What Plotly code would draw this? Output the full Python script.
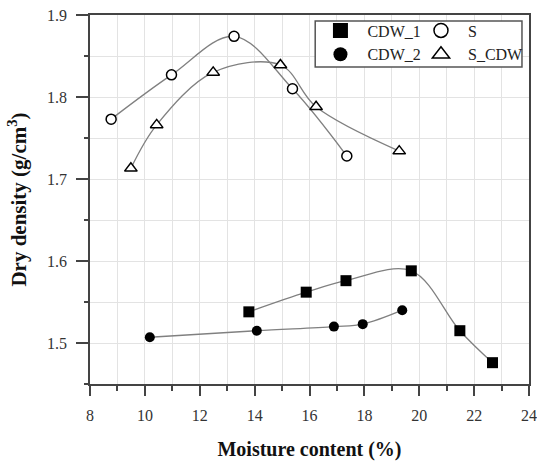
import plotly.graph_objects as go

# Compaction test results: moisture content (%) vs dry density (g/cm3)
cdw1_x = [13.79, 15.88, 17.33, 19.71, 21.48, 22.67]
cdw1_y = [1.538, 1.562, 1.576, 1.588, 1.515, 1.476]

cdw2_x = [10.18, 14.08, 16.89, 17.94, 19.38]
cdw2_y = [1.507, 1.515, 1.520, 1.523, 1.540]

s_x = [8.77, 10.97, 13.25, 15.38, 17.36]
s_y = [1.773, 1.827, 1.874, 1.810, 1.728]

scdw_x = [9.49, 10.43, 12.49, 14.94, 16.24, 19.27]
scdw_y = [1.713, 1.766, 1.830, 1.839, 1.788, 1.734]

x_ticks = [8, 10, 12, 14, 16, 18, 20, 22, 24]
y_ticks = [1.5, 1.6, 1.7, 1.8, 1.9]

SERIF = "Liberation Serif"
CURVE = dict(color="#808080", width=1.3, shape="spline", smoothing=1.0)

series = [
    ("CDW_1", cdw1_x, cdw1_y, dict(symbol="square", size=11, color="black"), "legend"),
    ("CDW_2", cdw2_x, cdw2_y, dict(symbol="circle", size=10, color="black"), "legend"),
    ("S", s_x, s_y, dict(symbol="circle", size=10, color="white",
                         line=dict(color="black", width=1.5)), "legend2"),
    ("S_CDW", scdw_x, scdw_y, dict(symbol="triangle-up", size=11, color="white",
                                   line=dict(color="black", width=1.5)), "legend2"),
]

fig = go.Figure()

for name, xs, ys, mk, _ in series:
    fig.add_trace(go.Scatter(x=xs, y=ys, mode="lines+markers", name=name,
                             line=CURVE, marker=mk, showlegend=False))

# legend-only entries (marker symbols without the curve)
for name, _, _, mk, lg in series:
    big = dict(mk)
    big["size"] = mk["size"] + 4
    fig.add_trace(go.Scatter(x=[None], y=[None], mode="markers", name=name,
                             marker=big, legend=lg, showlegend=True))

legend_style = dict(
    font=dict(family=SERIF, size=16, color="#222"),
    bgcolor="rgba(0,0,0,0)", borderwidth=0, orientation="v",
    xanchor="left", yanchor="top", itemwidth=44, tracegroupgap=0,
)

fig.update_layout(
    width=537, height=461,
    margin=dict(l=90, r=8, t=15, b=77),
    paper_bgcolor="white", plot_bgcolor="white",
    font=dict(family=SERIF, size=16, color="#222"),
    legend=dict(x=0.509, y=1.004, **legend_style),
    legend2=dict(x=0.738, y=1.004, **legend_style),
    shapes=[dict(type="rect", xref="paper", yref="paper",
                 x0=0.513, x1=0.984, y0=0.859, y1=0.984,
                 line=dict(color="#555", width=1.5), fillcolor="white",
                 layer="above")],
    xaxis=dict(
        range=[8, 24], tickvals=x_ticks, ticks="outside", ticklen=10,
        tickwidth=1.5, tickcolor="#444", ticklabelstandoff=6,
        ticklabeloverflow="allow", automargin=False,
        showline=True, linecolor="#444", linewidth=1.5, mirror=True,
        showgrid=True, gridcolor="#e3e3e3", gridwidth=1,
        minor=dict(dtick=1, ticks="outside", ticklen=5, tickwidth=1.5,
                   tickcolor="#444", showgrid=True, gridcolor="#e3e3e3"),
        zeroline=False,
        tickfont=dict(family=SERIF, size=16, color="#333"),
        title=dict(text="<b>Moisture content (%)</b>",
                   font=dict(family=SERIF, size=20, color="#111"), standoff=22),
    ),
    yaxis=dict(
        range=[1.45, 1.9], tickvals=y_ticks, ticks="outside", ticklen=12,
        tickwidth=1.5, tickcolor="#444", ticklabelstandoff=6,
        automargin=False,
        showline=True, linecolor="#444", linewidth=1.5, mirror=True,
        showgrid=True, gridcolor="#e3e3e3", gridwidth=1,
        minor=dict(dtick=0.05, tick0=1.45, ticks="outside", ticklen=4,
                   tickwidth=1.5, tickcolor="#444", showgrid=True,
                   gridcolor="#e3e3e3"),
        zeroline=False,
        tickfont=dict(family=SERIF, size=16, color="#333"),
        title=dict(text="<b>Dry density (g/cm<sup>3</sup>)</b>",
                   font=dict(family=SERIF, size=21, color="#111"), standoff=15),
    ),
)

fig.write_html("out.html")
